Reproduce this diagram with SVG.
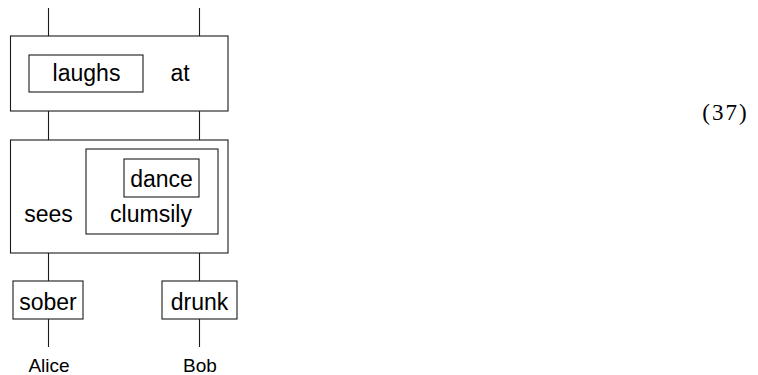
<svg xmlns="http://www.w3.org/2000/svg" width="758" height="375" viewBox="0 0 758 375">
<style>
.b{fill:none;stroke:#1a1a1a;stroke-width:1.1}
.w{stroke:#1a1a1a;stroke-width:1.1}
.t{font-family:"Liberation Sans",Arial,sans-serif;font-size:23px;fill:#000;text-anchor:middle}
.l{font-family:"Liberation Sans",Arial,sans-serif;font-size:19px;fill:#000;text-anchor:middle}
.n{font-family:"Liberation Serif","Times New Roman",serif;font-size:23px;letter-spacing:2px;fill:#000;text-anchor:middle}
</style>
<rect width="758" height="375" fill="#fff"/>
<g id="wires">
<line class="w" x1="48.5" y1="8" x2="48.5" y2="36"/>
<line class="w" x1="199.5" y1="8" x2="199.5" y2="36"/>
<line class="w" x1="48.5" y1="111" x2="48.5" y2="140"/>
<line class="w" x1="199.5" y1="111" x2="199.5" y2="140"/>
<line class="w" x1="48.5" y1="253" x2="48.5" y2="281"/>
<line class="w" x1="199.5" y1="253" x2="199.5" y2="281"/>
<line class="w" x1="48.5" y1="319" x2="48.5" y2="347"/>
<line class="w" x1="199.5" y1="319" x2="199.5" y2="347"/>
</g>
<g id="laughs-at">
<rect class="b" x="10.5" y="36" width="217.5" height="75"/>
<g id="laughs">
<rect class="b" x="29" y="55" width="114" height="37"/>
<text class="t" x="86.5" y="81">laughs</text>
</g>
<text class="t" x="180" y="81">at</text>
</g>
<g id="sees">
<rect class="b" x="10.5" y="140" width="217.5" height="113"/>
<text class="t" x="48.5" y="222">sees</text>
<g id="clumsily">
<rect class="b" x="86" y="149" width="132" height="85"/>
<text class="t" x="151" y="222">clumsily</text>
<g id="dance">
<rect class="b" x="124" y="159" width="75" height="38"/>
<text class="t" x="161.5" y="187">dance</text>
</g>
</g>
</g>
<g id="sober">
<rect class="b" x="13" y="281" width="70" height="38"/>
<text class="t" x="48" y="310">sober</text>
</g>
<g id="drunk">
<rect class="b" x="162" y="281" width="75" height="38"/>
<text class="t" x="199.5" y="310">drunk</text>
</g>
<text class="l" x="49" y="372">Alice</text>
<text class="l" x="200" y="372">Bob</text>
<text class="n" x="725.5" y="120">(37)</text>
</svg>
